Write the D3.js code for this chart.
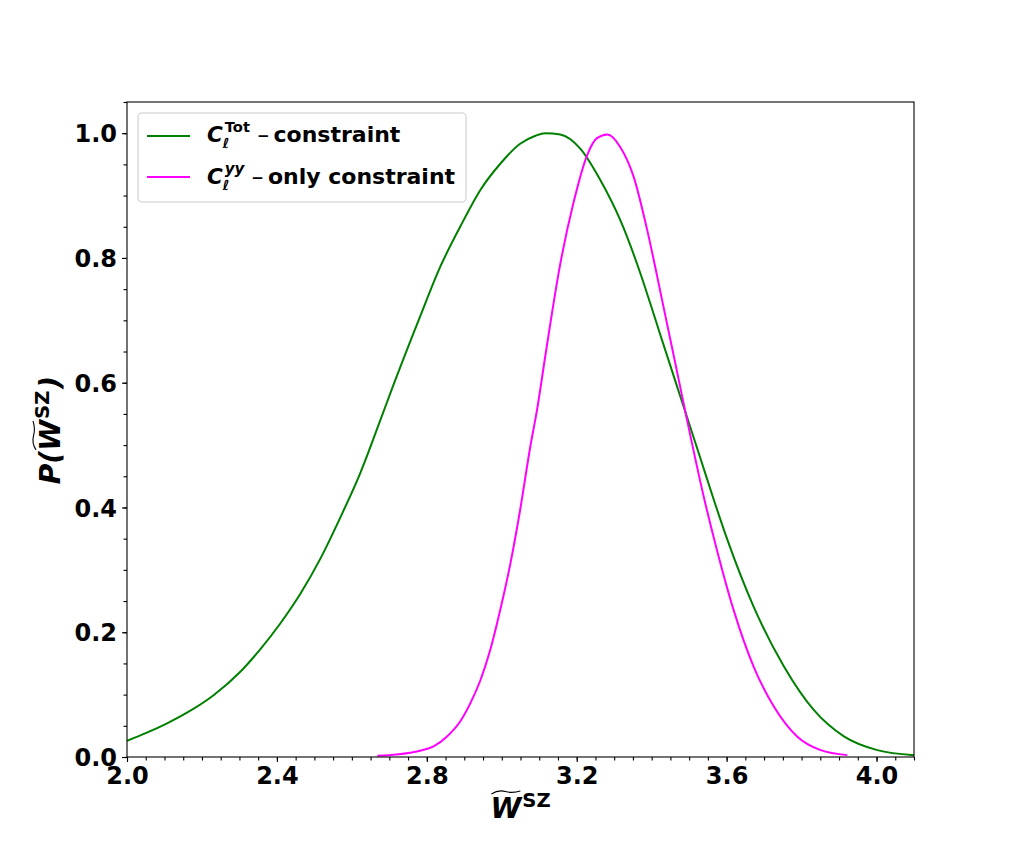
<!DOCTYPE html>
<html><head><meta charset="utf-8">
<script src="https://cdn.jsdelivr.net/npm/d3@7"></script>
<style>
body{margin:0;background:#fff}
svg text{font-family:"DejaVu Sans",sans-serif;font-weight:bold;fill:#000}
</style>
</head><body>
<svg id="chart" width="1016" height="850"></svg>
<script>
// ---- data ----
const totX = [2.000,2.053,2.107,2.160,2.231,2.303,2.356,2.409,2.463,2.516,2.570,2.623,2.676,2.712,2.782,2.836,2.889,2.943,2.996,3.049,3.090,3.116,3.156,3.210,3.263,3.316,3.370,3.392,3.423,3.463,3.490,3.530,3.566,3.601,3.672,3.753,3.833,3.913,4.002,4.100];
const totY = [0.026,0.039,0.054,0.071,0.099,0.137,0.173,0.214,0.262,0.318,0.385,0.456,0.540,0.598,0.706,0.786,0.850,0.909,0.951,0.983,0.996,1.000,0.998,0.975,0.925,0.861,0.775,0.735,0.677,0.603,0.553,0.479,0.412,0.350,0.241,0.145,0.075,0.033,0.011,0.003];
const yyX = [2.668,2.720,2.782,2.818,2.854,2.889,2.916,2.943,2.969,2.996,3.023,3.049,3.076,3.094,3.118,3.156,3.192,3.228,3.254,3.282,3.316,3.352,3.388,3.428,3.460,3.490,3.541,3.575,3.619,3.672,3.726,3.788,3.851,3.922];
const yyY = [0.002,0.004,0.010,0.017,0.033,0.057,0.086,0.123,0.171,0.236,0.310,0.396,0.497,0.556,0.650,0.790,0.890,0.965,0.992,0.998,0.978,0.930,0.845,0.732,0.640,0.553,0.412,0.330,0.235,0.145,0.081,0.033,0.011,0.003];
const xTicks = [2.0,2.4,2.8,3.2,3.6,4.0];
const yTicks = [0.0,0.2,0.4,0.6,0.8,1.0];
const seriesColors = ["#008000","#ff00ff"];

// ---- layout ----
const svg = d3.select("#chart");
const L = 127, R = 914, T = 102, B = 757;
const x = d3.scaleLinear().domain([2.0, 4.1]).range([L, R]);
const y = d3.scaleLinear().domain([0, 1.05]).range([B, T]);

const series = [
  {xs: totX, ys: totY, color: seriesColors[0]},
  {xs: yyX, ys: yyY, color: seriesColors[1]}
];

svg.append("clipPath").attr("id","clip").append("rect")
  .attr("x", L).attr("y", T).attr("width", R-L).attr("height", B-T);

const line = d3.line().x(d => x(d[0])).y(d => y(d[1])).curve(d3.curveMonotoneX);
const plot = svg.append("g").attr("clip-path","url(#clip)");
series.forEach(s => {
  plot.append("path").datum(d3.zip(s.xs, s.ys))
    .attr("d", line).attr("fill","none").attr("stroke", s.color)
    .attr("stroke-width", 2).attr("stroke-linejoin","round");
});

// minor ticks
const xMinor = d3.range(0, 43).map(i => +(2.0 + i*0.05).toFixed(2));
const yMinor = d3.range(0, 22).map(i => +(i*0.05).toFixed(2));
svg.append("g").attr("transform",`translate(0,${B})`)
  .call(d3.axisBottom(x).tickValues(xMinor).tickFormat("").tickSize(3.5))
  .call(g => g.select(".domain").remove());
svg.append("g").attr("transform",`translate(${L},0)`)
  .call(d3.axisLeft(y).tickValues(yMinor).tickFormat("").tickSize(3.5))
  .call(g => g.select(".domain").remove());

// major ticks
const fmt = d3.format(".1f");
const gx = svg.append("g").attr("transform",`translate(0,${B})`)
  .call(d3.axisBottom(x).tickValues(xTicks).tickFormat(fmt).tickSize(5).tickPadding(5));
gx.select(".domain").remove();
gx.selectAll("text").style("font-size","24px");
const gy = svg.append("g").attr("transform",`translate(${L},0)`)
  .call(d3.axisLeft(y).tickValues(yTicks).tickFormat(fmt).tickSize(5).tickPadding(5));
gy.select(".domain").remove();
gy.selectAll("text").style("font-size","24px").attr("dy","0.36em");
svg.selectAll(".tick line").attr("stroke","#000").attr("stroke-width",1.1);
svg.selectAll("g").filter(function(){return this.getAttribute("font-family")==="sans-serif";})
  .attr("font-family", null).attr("font-size", null);

// frame
svg.append("rect").attr("x", L).attr("y", T).attr("width", R-L).attr("height", B-T)
  .attr("fill","none").attr("stroke","#000").attr("stroke-width",1.1);

// math-like text helper
function mathText(parent, parts) {
  const g = parent.append("g");
  let cx = 0, prevStart = 0, prevEnd = 0;
  parts.forEach(p => {
    const start = (p.stack ? prevStart : cx) + (p.pre || 0);
    const el = g.append("text").attr("x", start).attr("y", p.dy || 0)
      .style("font-size", p.size + "px")
      .style("font-style", p.italic ? "italic" : "normal")
      .text(p.t);
    const end = start + el.node().getComputedTextLength();
    cx = p.stack ? Math.max(prevEnd, end) : end;
    prevStart = start; prevEnd = end;
  });
  return {g, width: cx};
}

// x label
const xl = mathText(svg, [
  {t:"W", size:28, italic:true},
  {t:"SZ", size:19.6, dy:-11, pre:1}
]);
xl.g.attr("transform", `translate(${(L+R)/2 - xl.width/2},818)`);
xl.g.append("path")
  .attr("d", "M1,-24 Q8,-28.5 15,-26.5 T30,-27")
  .attr("fill","none").attr("stroke","#000").attr("stroke-width",1.1);

// y label
const yg = svg.append("g").attr("transform","translate(60,430) rotate(-90)");
const yl = mathText(yg, [
  {t:"P", size:28, italic:true},
  {t:"(", size:28, italic:true},
  {t:"W", size:28, italic:true},
  {t:"SZ", size:19.6, dy:-11, pre:1},
  {t:")", size:28, italic:true, pre:2}
]);
yl.g.attr("transform", `translate(${-yl.width/2},0)`);
{
  const nodes = yl.g.selectAll("text").nodes();
  const wx = +nodes[2].getAttribute("x");
  yl.g.append("path")
    .attr("d", `M${wx+1},-24 Q${wx+8},-28.5 ${wx+15},-26.5 T${wx+30},-27`)
    .attr("fill","none").attr("stroke","#000").attr("stroke-width",1.1);
}

// legend
const lg = svg.append("g");
lg.append("rect").attr("x",138).attr("y",113).attr("width",328).attr("height",89)
  .attr("rx",4).attr("fill","#fff").attr("fill-opacity",0.8)
  .attr("stroke","#cccccc").attr("stroke-width",1.1);
const legendRows = [
  {y:136, base:142, color:seriesColors[0], parts:[
    {t:"C", size:21.5, italic:true},
    {t:"ℓ", size:14, italic:true, dy:6, pre:0},
    {t:"Tot", size:14.7, dy:-10, stack:true, pre:2},
    {t:"−", size:15, dy:-1, pre:7},
    {t:"constraint", size:22, pre:4}
  ]},
  {y:177, base:184, color:seriesColors[1], parts:[
    {t:"C", size:21.5, italic:true},
    {t:"ℓ", size:14, italic:true, dy:6, pre:0},
    {t:"yy", size:15, italic:true, dy:-10, stack:true, pre:2},
    {t:"−", size:15, dy:-1, pre:7},
    {t:"only constraint", size:22, pre:4}
  ]}
];
legendRows.forEach(r => {
  lg.append("line").attr("x1",147).attr("x2",190).attr("y1",r.y).attr("y2",r.y)
    .attr("stroke", r.color).attr("stroke-width",2);
  const m = mathText(lg, r.parts);
  m.g.attr("transform", `translate(207,${r.base})`);
});
</script>
</body></html>
